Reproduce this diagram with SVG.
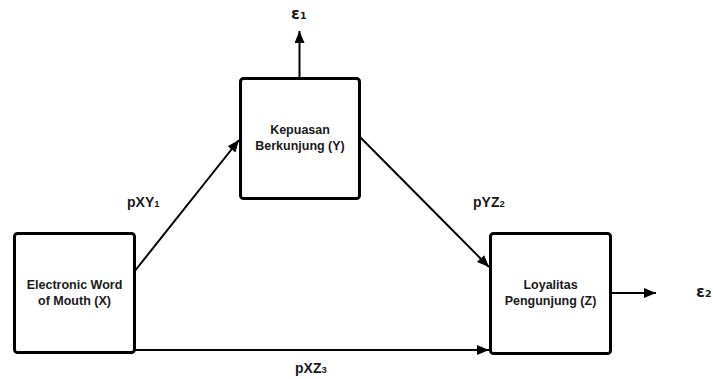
<svg xmlns="http://www.w3.org/2000/svg" width="713" height="379" viewBox="0 0 713 379">
<defs>
<style>
.box{fill:#fff;stroke:#000;stroke-width:3}
.t{font-family:"Liberation Sans",Arial,sans-serif;font-weight:bold;font-size:12.5px;fill:#1a1a1a;text-anchor:middle}
.lbl{font-family:"Liberation Sans",Arial,sans-serif;font-weight:bold;font-size:14px;fill:#1a1a1a}
.eps{font-family:"DejaVu Sans","Liberation Sans",sans-serif;font-weight:bold;font-size:16px;fill:#1a1a1a}
.sub{font-size:9.5px}
.c{stroke:#000;stroke-width:2;fill:none}
</style>
<marker id="ah" markerUnits="userSpaceOnUse" markerWidth="12" markerHeight="10" viewBox="0 0 12 10" refX="12" refY="5" orient="auto">
<path d="M0,0 L12,5 L0,10 z" fill="#000"/>
</marker>
</defs>
<g id="connectors">
<line class="c" x1="134" y1="272" x2="239" y2="140" marker-end="url(#ah)"/>
<line class="c" x1="360" y1="137" x2="489" y2="267" marker-end="url(#ah)"/>
<line class="c" x1="134" y1="350" x2="489" y2="350" marker-end="url(#ah)"/>
<line class="c" x1="299.5" y1="78" x2="299.5" y2="31" marker-end="url(#ah)"/>
<line class="c" x1="610" y1="293" x2="656" y2="293" stroke-width="1.6" marker-end="url(#ah)"/>
</g>
<g id="node-x">
<rect class="box" x="14.5" y="233.5" width="120" height="119" rx="3"/>
<text class="t" x="74.5" y="289">Electronic Word</text>
<text class="t" x="74.5" y="305">of Mouth (X)</text>
</g>
<g id="node-y">
<rect class="box" x="240.5" y="78.5" width="119" height="120" rx="3"/>
<text class="t" x="300" y="134">Kepuasan</text>
<text class="t" x="300" y="150">Berkunjung (Y)</text>
</g>
<g id="node-z">
<rect class="box" x="490.5" y="233.5" width="120" height="120" rx="3"/>
<text class="t" x="550.5" y="289">Loyalitas</text>
<text class="t" x="550.5" y="305">Pengunjung (Z)</text>
</g>
<g id="labels">
<text class="lbl" x="127" y="207">pXY<tspan class="sub">1</tspan></text>
<text class="lbl" x="473" y="207">pYZ<tspan class="sub">2</tspan></text>
<text class="lbl" x="295" y="373">pXZ<tspan class="sub">3</tspan></text>
<text class="eps" x="291" y="19">ε<tspan class="sub">1</tspan></text>
<text class="eps" x="696" y="297">ε<tspan class="sub">2</tspan></text>
</g>
</svg>
